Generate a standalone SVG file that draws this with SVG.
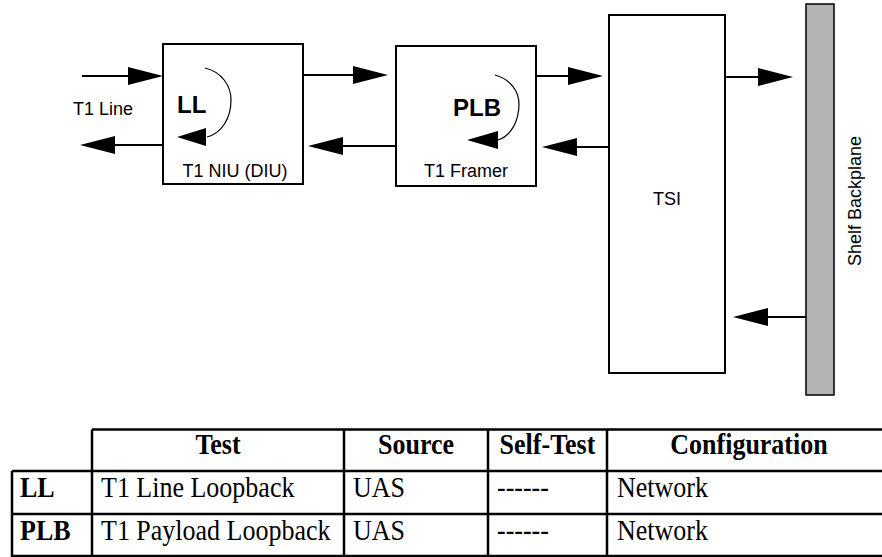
<svg xmlns="http://www.w3.org/2000/svg" width="882" height="557" viewBox="0 0 882 557">
<style>
.box{fill:#fff;stroke:#000;stroke-width:2}
.ln{stroke:#000;stroke-width:2;fill:none}
.head{fill:#000}
.loop{stroke:#000;stroke-width:1.2;fill:none}
.lbl{font-family:"Liberation Sans",Arial,sans-serif;font-size:18px;fill:#000}
.big{font-family:"Liberation Sans",Arial,sans-serif;font-size:24px;font-weight:bold;fill:#000}
.th{font-family:"Liberation Serif","Times New Roman",serif;font-size:26px;font-weight:bold;fill:#000}
.td{font-family:"Liberation Serif","Times New Roman",serif;font-size:26px;fill:#000}
.grid{stroke:#000;stroke-width:2.5;fill:none}
</style>
<rect width="882" height="557" fill="#fff"/>
<g id="niu">
<rect class="box" x="163" y="44" width="140" height="140"/>
<text class="big" x="177" y="113">LL</text>
<path class="loop" d="M205,68 C222,72 231,86 231,100 C231,118 222,133 207,137"/>
<polygon class="head" points="177,137 206,128 206,146"/>
<text class="lbl" x="235" y="177" text-anchor="middle">T1 NIU (DIU)</text>
</g>
<g id="framer">
<rect class="box" x="396" y="46" width="140" height="140"/>
<text class="big" x="453" y="116">PLB</text>
<path class="loop" d="M495,75 C510,79 519,91 519,104 C519,121 511,136 498,140"/>
<polygon class="head" points="467,140 498,131 498,149"/>
<text class="lbl" x="466" y="177" text-anchor="middle">T1 Framer</text>
</g>
<g id="tsi">
<rect class="box" x="609" y="15" width="116" height="358"/>
<text class="lbl" x="667" y="205" text-anchor="middle">TSI</text>
</g>
<g id="backplane">
<rect x="806" y="4" width="28" height="391" fill="#b3b3b3" stroke="#000" stroke-width="1.5"/>
<text class="lbl" transform="translate(861,201) rotate(-90)" text-anchor="middle">Shelf Backplane</text>
</g>
<g id="line-label">
<text class="lbl" x="73" y="115">T1 Line</text>
</g>
<g id="connectors">
<line class="ln" x1="82" y1="76" x2="130" y2="76"/>
<polygon class="head" points="163,76 128,67 128,85"/>
<line class="ln" x1="163" y1="145" x2="112" y2="145"/>
<polygon class="head" points="80,145 115,136 115,154"/>
<line class="ln" x1="303" y1="75" x2="355" y2="75"/>
<polygon class="head" points="388,75 353,66 353,84"/>
<line class="ln" x1="396" y1="146" x2="341" y2="146"/>
<polygon class="head" points="308,146 343,137 343,155"/>
<line class="ln" x1="536" y1="76" x2="570" y2="76"/>
<polygon class="head" points="603,76 568,67 568,85"/>
<line class="ln" x1="609" y1="147" x2="575" y2="147"/>
<polygon class="head" points="542,147 577,138 577,156"/>
<line class="ln" x1="725" y1="77" x2="760" y2="77"/>
<polygon class="head" points="793,77 758,68 758,86"/>
<line class="ln" x1="806" y1="317" x2="766" y2="317"/>
<polygon class="head" points="733,317 768,308 768,326"/>
</g>
<g id="table">
<path class="grid" d="M92,429.5 H895 M12,471 H895 M12,514 H895 M12,556 H895 M92,429.5 V557 M344,429.5 V557 M488,429.5 V557 M607,429.5 V557 M12,471 V557"/>
<text class="th" transform="translate(218,454) scale(1,1.12)" text-anchor="middle">Test</text>
<text class="th" transform="translate(416,454) scale(1,1.12)" text-anchor="middle">Source</text>
<text class="th" transform="translate(547.5,454) scale(1,1.12)" text-anchor="middle">Self-Test</text>
<text class="th" transform="translate(749,454) scale(1,1.12)" text-anchor="middle">Configuration</text>
<text class="th" transform="translate(20,497) scale(1,1.12)">LL</text>
<text class="td" transform="translate(101,497) scale(1,1.12)">T1 Line Loopback</text>
<text class="td" transform="translate(353,497) scale(1,1.12)">UAS</text>
<text class="td" transform="translate(497,497) scale(1,1.12)">------</text>
<text class="td" transform="translate(617,497) scale(1,1.12)">Network</text>
<text class="th" transform="translate(20,540) scale(1,1.12)">PLB</text>
<text class="td" transform="translate(101,540) scale(1,1.12)">T1 Payload Loopback</text>
<text class="td" transform="translate(353,540) scale(1,1.12)">UAS</text>
<text class="td" transform="translate(497,540) scale(1,1.12)">------</text>
<text class="td" transform="translate(617,540) scale(1,1.12)">Network</text>
</g>
</svg>
